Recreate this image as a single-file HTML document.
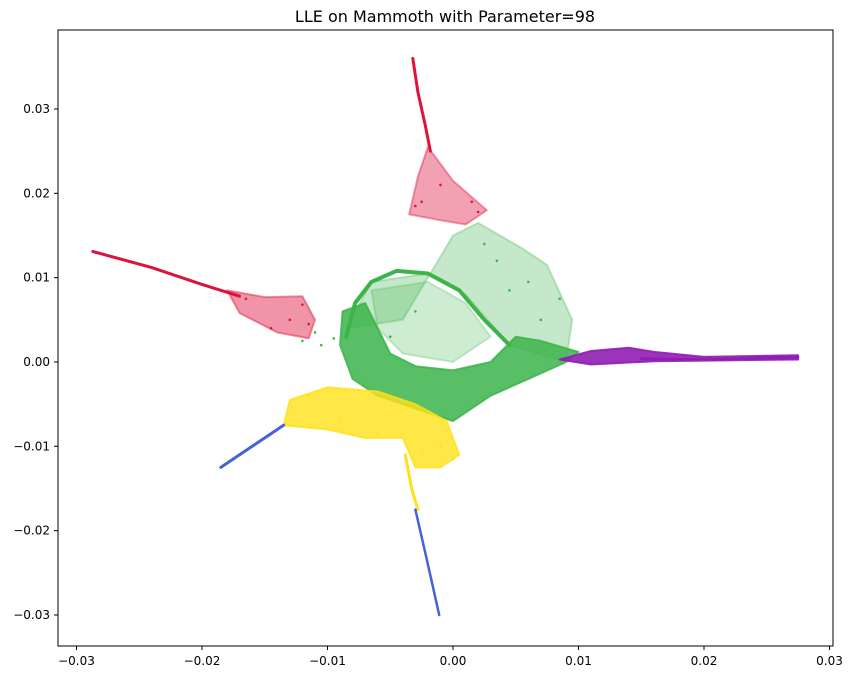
<!DOCTYPE html>
<html><head><meta charset="utf-8">
<style>
body{margin:0;background:#fff;font-family:"Liberation Sans","DejaVu Sans",sans-serif;}
svg text{font-family:"DejaVu Sans","Liberation Sans",sans-serif;}
</style></head>
<body>
<svg id="chart" width="850" height="676" xmlns="http://www.w3.org/2000/svg">
<text x="445" y="22" font-size="16" text-anchor="middle">LLE on Mammoth with Parameter=98</text>
<g id="marks"></g>
<rect x="58" y="30" width="775" height="616" fill="none" stroke="#000" stroke-width="1"/>
<g id="axes"></g>
</svg>
<script>
const xTicks=[-0.03,-0.02,-0.01,0.00,0.01,0.02,0.03];
const xTickLabels=["−0.03","−0.02","−0.01","0.00","0.01","0.02","0.03"];
const yTicks=[-0.03,-0.02,-0.01,0.00,0.01,0.02,0.03];
const yTickLabels=["−0.03","−0.02","−0.01","0.00","0.01","0.02","0.03"];
const redLeftLine=[[-0.0287,0.0131],[-0.024,0.0112],[-0.020,0.0092],[-0.017,0.0078]];
const redTopLine=[[-0.0032,0.036],[-0.0028,0.032],[-0.0022,0.028],[-0.0018,0.025]];
const blueLeftLine=[[-0.0185,-0.0125],[-0.016,-0.010],[-0.0135,-0.0075]];
const blueBottomLine=[[-0.0030,-0.0175],[-0.0020,-0.024],[-0.0011,-0.030]];
const purpleLine=[[0.015,0.0004],[0.021,0.0003],[0.0275,0.0006]];
const yellowTail=[[-0.0038,-0.011],[-0.0033,-0.015],[-0.0028,-0.0175]];
const greenRing=[[-0.0085,0.003],[-0.0078,0.007],[-0.0065,0.0095],[-0.0045,0.0108],[-0.002,0.0105],[0.0005,0.0085],[0.0025,0.005],[0.0045,0.002]];
const redBlob=[[-0.018,0.0085],[-0.015,0.0077],[-0.012,0.0078],[-0.011,0.005],[-0.0115,0.0028],[-0.014,0.0035],[-0.017,0.0058]];
const redTopBlob=[[-0.0035,0.0175],[-0.0028,0.022],[-0.002,0.0255],[0.0,0.0215],[0.0027,0.018],[0.001,0.0163],[-0.001,0.0168]];
const purpleBlob=[[0.0085,0.0003],[0.011,0.0013],[0.014,0.0017],[0.016,0.0012],[0.02,0.0006],[0.0275,0.0008],[0.0275,0.0003],[0.016,0.0001],[0.011,-0.0003]];
const yellowBlob=[[-0.0135,-0.0075],[-0.013,-0.0045],[-0.010,-0.003],[-0.006,-0.0035],[-0.003,-0.005],[-0.0005,-0.007],[0.0005,-0.011],[-0.001,-0.0125],[-0.003,-0.0125],[-0.004,-0.009],[-0.007,-0.009],[-0.010,-0.008]];
const greenDense=[[-0.0088,0.006],[-0.009,0.002],[-0.008,-0.002],[-0.006,-0.004],[-0.003,-0.0055],[0.0,-0.007],[0.003,-0.004],[0.006,-0.002],[0.009,0.0],[0.010,0.0012],[0.007,0.0025],[0.005,0.003],[0.003,0.0],[0.0,-0.001],[-0.003,-0.0005],[-0.005,0.001],[-0.006,0.004],[-0.007,0.007]];
const greenSparse=[[0.0,0.015],[0.002,0.0165],[0.0055,0.0135],[0.0075,0.0115],[0.0095,0.005],[0.009,0.0],[0.0045,0.002],[0.001,0.008],[-0.002,0.0105],[-0.0065,0.0095],[-0.0085,0.004],[-0.004,0.005]];
const greenInner=[[-0.0065,0.0085],[-0.002,0.0095],[0.001,0.007],[0.003,0.003],[0.0,0.0],[-0.004,0.001],[-0.006,0.004]];
const redDots=[[-0.0165,0.0075],[-0.0145,0.004],[-0.012,0.0068],[-0.0115,0.0045],[-0.013,0.005],[-0.0025,0.019],[0.002,0.0178],[-0.001,0.021],[0.0015,0.019],[-0.003,0.0185]];
const greenDots=[[-0.011,0.0035],[-0.012,0.0025],[-0.0105,0.002],[-0.0095,0.0028],[0.0035,0.012],[0.006,0.0095],[0.0085,0.0075],[0.0025,0.014],[0.007,0.005],[0.0045,0.0085],[-0.005,0.003],[-0.003,0.006]];
const yellowDots=[[-0.001,-0.010],[0.0,-0.0115],[-0.0025,-0.0105],[-0.006,-0.0085],[-0.009,-0.007],[-0.0115,-0.004]];

const X0=453, XS=12550, Y0=362, YS=8433;
const sx=v=>X0+v*XS, sy=v=>Y0-v*YS;
const NS="http://www.w3.org/2000/svg";
const marks=document.getElementById('marks');
const axes=document.getElementById('axes');
const pts=a=>a.map(p=>sx(p[0]).toFixed(1)+","+sy(p[1]).toFixed(1)).join(" ");
function poly(a,color,op,name){
  const e=document.createElementNS(NS,'polygon');
  e.setAttribute('points',pts(a));e.setAttribute('fill',color);e.setAttribute('fill-opacity',op);
  e.setAttribute('stroke',color);e.setAttribute('stroke-width','2');e.setAttribute('stroke-opacity',op);
  e.setAttribute('stroke-linejoin','round');
  
  
  marks.appendChild(e);
}
function line(a,color,w,name){
  const e=document.createElementNS(NS,'polyline');
  e.setAttribute('points',pts(a));e.setAttribute('fill','none');e.setAttribute('stroke',color);
  e.setAttribute('stroke-width',w);e.setAttribute('stroke-linecap','round');e.setAttribute('stroke-linejoin','round');
  
  
  marks.appendChild(e);
}
function dots(a,color,name){
  a.forEach(p=>{
    const c=document.createElementNS(NS,'circle');
    c.setAttribute('cx',sx(p[0]));c.setAttribute('cy',sy(p[1]));c.setAttribute('r','1.3');c.setAttribute('fill',color);
    
    
    marks.appendChild(c);
  });
}
const RED="#dc143c",GREEN="#3cb44b",BLUE="#4363d8",YEL="#ffe119",PUR="#911eb4";
poly(greenSparse,GREEN,0.3,'green-sparse-region');
poly(greenInner,GREEN,0.25,'green-inner-region');
poly(greenDense,GREEN,0.85,'green-dense-region');
line(greenRing,GREEN,4,'green-ring');
dots(greenDots,GREEN,'green-point');
poly(yellowBlob,YEL,0.8,'yellow-region');
line(yellowTail,YEL,3,'yellow-tail');
dots(yellowDots,YEL,'yellow-point');
poly(redBlob,RED,0.45,'red-left-region');
poly(redTopBlob,RED,0.4,'red-top-region');
line(redLeftLine,RED,3,'red-left-streak');
line(redTopLine,RED,3,'red-top-streak');
dots(redDots,RED,'red-point');
poly(purpleBlob,PUR,0.9,'purple-region');
line(purpleLine,PUR,2.5,'purple-streak');
line(blueLeftLine,BLUE,3,'blue-left-streak');
line(blueBottomLine,BLUE,2.5,'blue-bottom-streak');

xTicks.forEach((v,i)=>{
  const x=sx(v);
  const t=document.createElementNS(NS,'line');
  t.setAttribute('x1',x);t.setAttribute('x2',x);t.setAttribute('y1',646);t.setAttribute('y2',650);t.setAttribute('stroke','#000');
  
  
  axes.appendChild(t);
  const l=document.createElementNS(NS,'text');
  l.setAttribute('x',x);l.setAttribute('y',665);l.setAttribute('font-size','12');l.setAttribute('text-anchor','middle');
  l.textContent=xTickLabels[i];
  
  
  axes.appendChild(l);
});
yTicks.forEach((v,i)=>{
  const y=sy(v);
  const t=document.createElementNS(NS,'line');
  t.setAttribute('x1',54);t.setAttribute('x2',58);t.setAttribute('y1',y);t.setAttribute('y2',y);t.setAttribute('stroke','#000');
  
  
  axes.appendChild(t);
  const l=document.createElementNS(NS,'text');
  l.setAttribute('x',50);l.setAttribute('y',y+4);l.setAttribute('font-size','12');l.setAttribute('text-anchor','end');
  l.textContent=yTickLabels[i];
  
  
  axes.appendChild(l);
});
</script>
</body></html>
